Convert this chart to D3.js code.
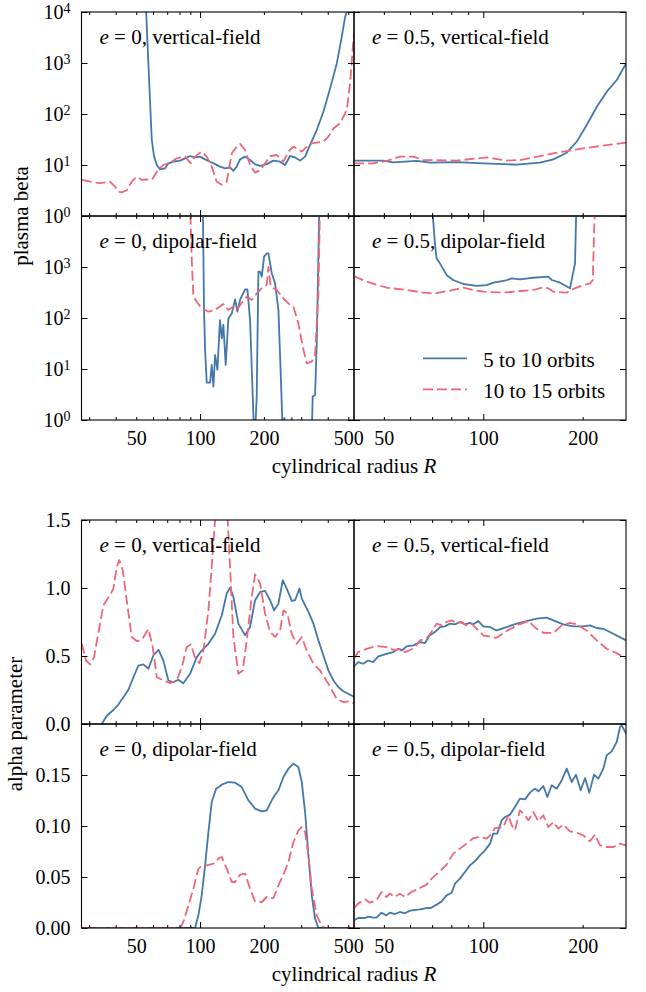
<!DOCTYPE html>
<html><head><meta charset="utf-8">
<script src="https://cdn.jsdelivr.net/npm/d3@7"></script>
<style>
body{margin:0;background:#fff}
svg{display:block;background:#fff}
text{font-family:"Liberation Serif","Times New Roman",serif;fill:#000}
</style>
</head><body>
<svg id="chart" width="646" height="992"></svg>
<script>
// ---------------- data: [cylindrical radius R, value] ----------------
const seriesNames = ["5 to 10 orbits", "10 to 15 orbits"];

// plasma beta, e = 0, vertical-field
const betaVert0_a = [[55.3,20000],[57.1,900],[59.2,31],[60.7,14.6],[62.5,10],[64.8,8.2],[68.4,8.6],[70.9,10.8],[74.8,11.6],[80.5,12.2],[85,13.5],[89.7,15],[94.7,14.1],[100,14.6],[105.6,12.9],[111.5,11.6],[117.7,10.4],[124.2,9.3],[131.2,8.6],[138.5,9],[143.6,7.7],[148.9,9.3],[154.4,12.9],[163.1,14.6],[172.1,12.5],[181.7,10.3],[191.9,9.6],[206.3,10.4],[221.8,12.2],[238.5,11.6],[251.7,10],[265.8,15],[280.6,14.1],[296.3,12.2],[312.8,14.6],[330.2,24.7],[355,48.5],[381.7,111],[410.4,318],[441.3,980],[465.9,3300],[483,8000],[492,10000],[505,20000]];
const betaVert0_b = [[27.7,5.1],[30.3,4.7],[33.7,4.4],[37.6,4.7],[39.7,3.8],[41.2,3.0],[42.7,2.9],[45.1,3.2],[47.6,4.7],[50.3,5.9],[53.1,5.1],[56,5.2],[59.2,5.1],[62.5,7.4],[67.1,10],[72.2,11.1],[77.6,13.5],[85,14.6],[90.4,10.8],[94.7,14.6],[101.8,18.3],[107.5,14.6],[113.5,9.3],[119.8,4.7],[126.6,4.1],[133.6,4.7],[141.1,16.9],[148.9,22.9],[154.4,25.9],[163.1,19.7],[172.1,10],[181.7,7.1],[191.9,7.9],[202.6,10.8],[213.9,15],[229.9,15.7],[247.3,11.6],[261,18.3],[275.6,22.9],[290.9,20.3],[301.7,18.3],[318.5,22.9],[336.3,26.6],[361.5,27.9],[381.7,28.6],[403,36],[425.6,52],[457.6,66],[492,120],[510,400],[525,2000],[532,3800]];

// plasma beta, e = 0.5, vertical-field
const betaVert05_a = [[40.6,12.2],[49.8,12.2],[53.4,11.3],[62.8,12],[69,11.1],[83,11.4],[100,10.8],[126.2,10.2],[148.5,11.1],[163,12.9],[178.9,17.4],[191.9,28.7],[205.7,60.8],[220.7,139],[236.6,274],[253.7,464],[270.6,980]];
const betaVert05_b = [[40.6,10.8],[46.4,10.8],[51,12],[55.9,14.6],[61.4,14.6],[65.8,12.5],[83,12.2],[102.4,14.1],[117.7,12.2],[129.2,12.5],[148.5,15],[166.9,17.4],[187.4,19.7],[196.3,20.8],[225.8,23.5],[270.6,27.4]];

// plasma beta, e = 0, dipolar-field
const betaDip0_a = [[103,20000],[104.4,144],[105.6,23.6],[107.5,5.4],[111.5,5.4],[113.5,12],[115.6,4.5],[117.7,18.8],[120.7,9.6],[124.2,91],[126.6,40],[128.8,73],[132.1,12],[136,98],[141.1,123],[146.3,232],[150,133],[154.4,226],[163,365],[167.2,365],[172.1,91],[177.2,2.9],[179.8,0.5],[181.7,0.5],[185,2.9],[188.4,810],[191.8,810],[195.4,646],[200.4,1600],[206.3,1850],[210.1,1850],[217.8,755],[225.9,478],[234.2,144],[241,5.2],[245.5,0.5],[250,1.1],[253,0.5],[268,0.5],[270.6,1.1],[273,0.5],[336.3,0.5],[339.6,2.9],[348.7,3.1],[355,32],[365.5,20000]];
const betaDip0_b = [[89.7,20000],[91.4,1370],[93,263],[96.4,209],[101.8,155],[109.5,133],[117.7,144],[128.8,188],[136,144],[143.6,167],[148.9,144],[154.4,179],[166,263],[175.3,226],[185,304],[198.9,410],[206.3,443],[210.1,1000],[215.4,410],[229.9,354],[247.3,243],[265.8,179],[275.6,167],[290.9,78.5],[307.3,23.6],[318.5,12.9],[336.3,13.9],[348.7,18.8],[361.5,304],[368.1,20000]];

// plasma beta, e = 0.5, dipolar-field
const betaDip05_a = [[69.8,20000],[71.4,2830],[72.2,1480],[73.9,1180],[77.5,692],[81.1,556],[87,464],[95.5,425],[102.4,443],[107.2,493],[116.3,538],[121.9,597],[129.2,574],[138.5,608],[157.4,646],[161.2,556],[170.8,493],[183.1,382],[186.5,700],[189.6,1180],[191.5,20000]];
const betaDip05_b = [[40.6,666],[44.3,516],[51,393],[58.6,354],[65.8,314],[71.4,304],[79.3,344],[87,393],[93.3,354],[100,328],[109.8,318],[117.7,318],[126.2,332],[141.7,354],[152,399],[157.4,382],[163,328],[178.9,314],[187.4,372],[201,443],[210.6,478],[214.6,556],[216.6,5300],[218.5,20000]];

// alpha parameter, e = 0, vertical-field
const alphaVert0_a = [[34.4,0],[36.3,0.061],[39,0.103],[41.2,0.143],[43.5,0.197],[45.9,0.251],[48.5,0.344],[51.2,0.43],[54,0.438],[57.1,0.406],[60.2,0.504],[63.6,0.546],[67.1,0.467],[70.9,0.32],[74.8,0.307],[79,0.325],[83.4,0.30],[89.7,0.369],[96.4,0.49],[101.8,0.54],[109.5,0.59],[117.7,0.664],[126.6,0.80],[133.6,0.96],[138.5,1.003],[143.6,0.934],[151.6,0.738],[163.1,0.652],[172.1,0.713],[181.7,0.91],[191.9,0.971],[202.6,0.979],[213.9,0.91],[223.4,0.836],[234.2,0.885],[245.5,1.057],[256.3,0.996],[270.6,0.905],[280.6,0.91],[294.2,0.996],[301.7,0.922],[324.3,0.824],[342.4,0.738],[361.5,0.615],[381.7,0.504],[403,0.393],[425.6,0.32],[449.3,0.27],[474.5,0.241],[501,0.221],[532,0.2]];
const alphaVert0_b = [[27.7,0.59],[29,0.467],[30.3,0.438],[31.6,0.49],[33.1,0.664],[35,0.873],[37.6,0.947],[39,0.996],[40.5,1.156],[41.6,1.205],[43.2,1.13],[45.1,0.91],[47.6,0.64],[50.3,0.61],[53.1,0.62],[57.1,0.70],[59.8,0.566],[62.5,0.344],[67.1,0.32],[72.2,0.30],[77.6,0.32],[82,0.418],[86.5,0.566],[90.4,0.585],[94.7,0.49],[99.3,0.447],[103.7,0.54],[109.5,0.836],[113.5,1.156],[117.7,1.5],[126,2.0],[135,1.5],[138.5,1.156],[143.6,0.64],[151.6,0.369],[159,0.393],[166,0.615],[175.3,0.934],[181.7,1.10],[191.9,1.033],[202.6,0.811],[213.9,0.676],[225.9,0.64],[238.5,0.688],[247.3,0.836],[258.2,0.811],[270.6,0.664],[285.8,0.59],[301.7,0.64],[318.5,0.54],[342.4,0.443],[368.1,0.393],[403,0.295],[441.3,0.184],[474.5,0.16],[501,0.167],[532,0.152]];

// alpha parameter, e = 0.5, vertical-field
const alphaVert05_a = [[40.6,0.423],[41.8,0.455],[43.3,0.443],[44.8,0.467],[46.4,0.455],[48.1,0.497],[50.9,0.516],[53.4,0.529],[55.3,0.553],[56.6,0.541],[58.6,0.57],[61.4,0.578],[64.3,0.602],[66.6,0.595],[68.9,0.652],[71.4,0.676],[73.9,0.713],[76.5,0.718],[79.3,0.738],[82.1,0.733],[85,0.75],[88,0.733],[91.1,0.743],[93.3,0.733],[96.6,0.757],[100,0.718],[104.8,0.713],[109.7,0.688],[117.7,0.713],[126.2,0.738],[135.3,0.757],[145.1,0.775],[155.6,0.782],[163,0.762],[174.7,0.733],[187.4,0.718],[200.9,0.718],[210.4,0.725],[220.5,0.706],[231,0.70],[247.7,0.664],[270.6,0.615]];
const alphaVert05_b = [[40.6,0.48],[41.8,0.529],[44.3,0.553],[47.5,0.573],[50.9,0.566],[54,0.541],[55.9,0.553],[57.9,0.529],[60.6,0.548],[62.1,0.566],[64.3,0.615],[67.3,0.627],[69.7,0.676],[72.2,0.738],[74.8,0.725],[77.4,0.75],[80.2,0.762],[83,0.743],[86,0.75],[89,0.725],[92.2,0.738],[95.5,0.70],[100,0.652],[109.7,0.634],[117.7,0.684],[126.2,0.725],[136.9,0.757],[145.1,0.70],[152,0.671],[163,0.669],[172.8,0.725],[183,0.743],[191.8,0.733],[205.6,0.688],[220.5,0.615],[236.4,0.553],[253.5,0.521],[270.6,0.48]];

// alpha parameter, e = 0, dipolar-field
const alphaDip0_a = [[27.6,0],[94.7,0],[98.2,0.0124],[101.8,0.032],[105.6,0.0614],[109.5,0.094],[113.5,0.1235],[119,0.1366],[126.6,0.1405],[136,0.1431],[146.3,0.1425],[157.2,0.1382],[169,0.1252],[181.7,0.117],[195.4,0.1144],[206.3,0.1154],[217.8,0.1252],[225.9,0.1307],[234.2,0.135],[247.3,0.148],[261,0.1562],[275.6,0.1611],[290.9,0.1578],[301.7,0.1431],[312.8,0.1137],[324.3,0.0712],[336.3,0.032],[348.7,0.0092],[361.5,0],[532,0]];
const alphaDip0_b = [[27.6,0],[80.5,0],[83.4,0.0059],[88.1,0.0222],[93,0.0386],[98.2,0.0582],[101.8,0.0605],[107.5,0.0614],[115.6,0.0631],[122,0.068],[126.6,0.0696],[133.6,0.0582],[141.1,0.0451],[146.3,0.0451],[154.4,0.0523],[163.1,0.0533],[172.1,0.0386],[181.7,0.0261],[195.4,0.0255],[206.3,0.0304],[213.9,0.0288],[221.8,0.0294],[234.2,0.0418],[247.3,0.0523],[261,0.0647],[275.6,0.0843],[290.9,0.0958],[301.7,0.099],[312.8,0.0941],[324.3,0.0712],[336.3,0.0386],[355,0.0124],[374.9,0.002],[388.8,0],[532,0]];

// alpha parameter, e = 0.5, dipolar-field
const alphaDip05_a = [[40.6,0.0075],[41.8,0.0098],[43.8,0.0098],[44.8,0.0111],[46.4,0.0101],[47.5,0.0101],[49.2,0.015],[50.9,0.0124],[52.1,0.015],[54,0.0137],[55.9,0.0157],[57.9,0.0144],[60,0.017],[64.3,0.0183],[67.3,0.0196],[69.3,0.0196],[72.2,0.0229],[74.8,0.0261],[77.4,0.032],[80.2,0.0346],[82.1,0.0435],[85,0.0484],[88,0.0549],[91.1,0.0614],[94.3,0.0654],[97.7,0.0712],[101.2,0.0761],[104.8,0.0827],[107.2,0.0925],[110.2,0.0925],[113.7,0.1056],[116.3,0.1088],[120.4,0.1111],[124.7,0.1186],[129.1,0.1268],[133.7,0.1261],[138.5,0.1327],[143.4,0.1366],[146.8,0.134],[152,0.1392],[156.3,0.1284],[161.1,0.1399],[166.8,0.1366],[172.8,0.1448],[178.9,0.1562],[185.2,0.1431],[190.9,0.1503],[197.2,0.135],[203.3,0.147],[209.5,0.1327],[216.4,0.1503],[223.1,0.1464],[231,0.1562],[236.4,0.1693],[244.8,0.1732],[253.5,0.1824],[259.5,0.197],[262.6,0.1987],[270.6,0.1905]];
const alphaDip05_b = [[40.6,0.0196],[41.8,0.0239],[43.8,0.0281],[45.3,0.0248],[47.5,0.0271],[49.2,0.0353],[50.9,0.0304],[52.1,0.0337],[54,0.0304],[55.9,0.0337],[57.9,0.0304],[60.6,0.0353],[64.3,0.0392],[67.3,0.0425],[69.7,0.0484],[73.9,0.0556],[77.4,0.0621],[81.1,0.0729],[85,0.0778],[89,0.0827],[93.3,0.0882],[97.7,0.0892],[102.4,0.0876],[104.8,0.0908],[108.5,0.098],[115,0.099],[119.1,0.1105],[121.9,0.1007],[124.7,0.0958],[129.1,0.1154],[133.7,0.1105],[136.9,0.1056],[141.8,0.1137],[146.8,0.1046],[152,0.1105],[157.4,0.099],[163,0.1039],[168.8,0.0974],[174.7,0.1013],[183,0.0948],[191.8,0.0935],[200.9,0.0908],[210.4,0.085],[217.9,0.0915],[225.7,0.081],[236.4,0.0794],[247.7,0.0794],[259.5,0.0827],[270.6,0.081]];

// tick values / labels
const xMajor = [100];
const xMinorLeft = [30,40,50,60,70,80,90,200,300,400,500];
const xMinorRight = [50,60,70,80,90,200];
const xLabelsLeft = [50,100,200,500];
const xLabelsRight = [50,100,200];
const betaTicks = [1,10,100,1000,10000];
const alphaTicksTop = [0,0.5,1.0,1.5];
const alphaTicksBottom = [0,0.05,0.10,0.15,0.20];

// ---------------- layout ----------------
const colors = ["#4477AA", "#EE6677"];
const svg = d3.select("#chart");
const xs = [
  d3.scaleLog().domain([27.6, 532]).range([81.5, 354]),
  d3.scaleLog().domain([40.6, 270.5]).range([354, 626])
];
const rowsY = [[12,216],[216,420],[520,724],[724,928]];
const yBeta = r => d3.scaleLog().domain([1,1e4]).range([rowsY[r][1], rowsY[r][0]]);
const yAlpha = (r, max) => d3.scaleLinear().domain([0,max]).range([rowsY[r][1], rowsY[r][0]]);

const panels = [
  {row:0,col:0,y:yBeta(0),e:"0",f:"vertical-field",s:[betaVert0_a,betaVert0_b],yt:betaTicks,yl:[1,10,100,1000,10000],fmt:"log"},
  {row:0,col:1,y:yBeta(0),e:"0.5",f:"vertical-field",s:[betaVert05_a,betaVert05_b],yt:betaTicks},
  {row:1,col:0,y:yBeta(1),e:"0",f:"dipolar-field",s:[betaDip0_a,betaDip0_b],yt:betaTicks,yl:[1,10,100,1000],fmt:"log",xl:true},
  {row:1,col:1,y:yBeta(1),e:"0.5",f:"dipolar-field",s:[betaDip05_a,betaDip05_b],yt:betaTicks,xl:true,legend:true},
  {row:2,col:0,y:yAlpha(2,1.5),e:"0",f:"vertical-field",s:[alphaVert0_a,alphaVert0_b],yt:alphaTicksTop,yl:alphaTicksTop,fmt:".1f"},
  {row:2,col:1,y:yAlpha(2,1.5),e:"0.5",f:"vertical-field",s:[alphaVert05_a,alphaVert05_b],yt:alphaTicksTop},
  {row:3,col:0,y:yAlpha(3,0.2),e:"0",f:"dipolar-field",s:[alphaDip0_a,alphaDip0_b],yt:alphaTicksBottom,yl:alphaTicksBottom.slice(0,4),fmt:".2f",xl:true},
  {row:3,col:1,y:yAlpha(3,0.2),e:"0.5",f:"dipolar-field",s:[alphaDip05_a,alphaDip05_b],yt:alphaTicksBottom,xl:true}
];

const defs = svg.append("defs");
const FONT = '"Liberation Serif","Times New Roman",serif';

panels.forEach((p,i) => {
  const x = xs[p.col], y = p.y;
  const [l,r] = x.range(), [b,t] = y.range();
  defs.append("clipPath").attr("id","clip"+i)
    .append("rect").attr("x",l).attr("y",t).attr("width",r-l).attr("height",b-t);
  const g = svg.append("g");
  const line = d3.line().x(d => x(d[0])).y(d => y(d[1]));
  const lg = g.append("g").attr("clip-path",`url(#clip${i})`);
  p.s.forEach((data,k) => {
    lg.append("path").datum(data).attr("d",line)
      .attr("fill","none").attr("stroke",colors[k]).attr("stroke-width",1.8)
      .attr("stroke-linejoin","round")
      .attr("stroke-dasharray", k===1 ? "10,4" : null);
  });
  // ticks (inward, all four sides)
  const tg = g.append("g");
  const minor = p.col===0 ? xMinorLeft : xMinorRight;
  [[d3.axisBottom,b],[d3.axisTop,t]].forEach(([f,pos]) => {
    tg.append("g").attr("transform",`translate(0,${pos})`).call(f(x).tickValues(xMajor).tickSize(-6).tickFormat(""));
    tg.append("g").attr("transform",`translate(0,${pos})`).call(f(x).tickValues(minor).tickSize(-3).tickFormat(""));
  });
  [[d3.axisLeft,l],[d3.axisRight,r]].forEach(([f,pos]) => {
    tg.append("g").attr("transform",`translate(${pos},0)`).call(f(y).tickValues(p.yt).tickSize(-6).tickFormat(""));
  });
  tg.selectAll(".domain").remove();
  tg.selectAll("line").attr("stroke","#000").attr("stroke-width",1);
  // spine
  g.append("rect").attr("x",l).attr("y",t).attr("width",r-l).attr("height",b-t)
    .attr("fill","none").attr("stroke","#000").attr("stroke-width",1.1);
  // x labels
  if (p.xl) {
    const ax = g.append("g").attr("transform",`translate(0,${b})`)
      .call(d3.axisBottom(x).tickValues(p.col===0 ? xLabelsLeft : xLabelsRight).tickSize(0).tickPadding(10.8).tickFormat(d3.format("d")));
    ax.select(".domain").remove();
    ax.attr("font-family",FONT).attr("font-size",20);
    ax.selectAll("text").attr("fill","#000");
  }
  // y labels
  if (p.yl) {
    const ay = g.append("g").attr("transform",`translate(${l},0)`)
      .call(d3.axisLeft(y).tickValues(p.yl).tickSize(0).tickPadding(11)
        .tickFormat(p.fmt==="log" ? (d => "") : d3.format(p.fmt)));
    ay.select(".domain").remove();
    ay.attr("font-family",FONT).attr("font-size",20);
    ay.selectAll("text").attr("fill","#000");
    if (p.fmt==="log") {
      ay.selectAll("text").attr("dy","0.32em").each(function(d){
        const tx = d3.select(this);
        tx.append("tspan").text("10");
        tx.append("tspan").attr("dy",-6).attr("font-size",14).text(Math.round(Math.log10(d)));
      });
    }
  }
  // panel title
  const tt = g.append("text").attr("x",l+18).attr("y",t+31.5).attr("font-size",21);
  tt.append("tspan").attr("font-style","italic").text("e");
  tt.append("tspan").text(` = ${p.e}, ${p.f}`);
  // legend
  if (p.legend) {
    const lgd = g.append("g");
    [[358.3,366.5],[389.3,398]].forEach(([ly,ty],k) => {
      lgd.append("line").attr("x1",423).attr("x2",467).attr("y1",ly).attr("y2",ly)
        .attr("stroke",colors[k]).attr("stroke-width",1.8).attr("stroke-dasharray",k===1?"10,4":null);
      lgd.append("text").attr("x",483.3).attr("y",ty).attr("font-size",21).text(seriesNames[k]);
    });
  }
});

// axis titles
[[420+52.7],[928+52.7]].forEach(([yy]) => {
  const t = svg.append("text").attr("x",354).attr("y",yy).attr("text-anchor","middle").attr("font-size",21);
  t.append("tspan").text("cylindrical radius ");
  t.append("tspan").attr("font-style","italic").text("R");
});
svg.append("text").attr("transform","translate(28,216) rotate(-90)").attr("text-anchor","middle").attr("font-size",21).text("plasma beta");
svg.append("text").attr("transform","translate(22,724) rotate(-90)").attr("text-anchor","middle").attr("font-size",21).text("alpha parameter");
</script>
</body></html>
